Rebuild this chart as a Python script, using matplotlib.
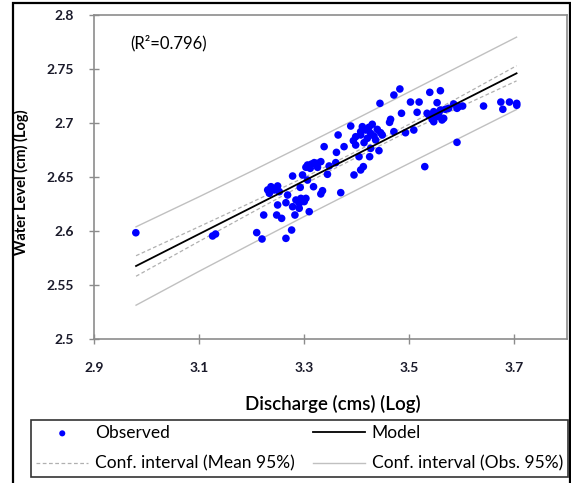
"""Rating curve: log water level vs log discharge with regression and 95% bands."""
import matplotlib
matplotlib.use('Agg')
import matplotlib.pyplot as plt
from matplotlib.patches import Rectangle

plt.rcParams['font.family'] = ['Lato', 'DejaVu Sans']

# observed points (log discharge, log water level)
obs_x = [3.482, 3.4706, 3.5389, 3.5591, 3.4441, 3.5022, 3.5186, 3.5528, 3.5844, 3.6014,
         3.6412, 3.6741, 3.6905, 3.7044, 3.6779, 3.7044, 3.4851, 3.5148, 3.5338, 3.5464,
         3.5591, 3.5686, 3.5907, 3.5464, 3.5622, 3.5528, 3.4643, 3.4624, 3.3885, 3.4295,
         3.3645, 3.4074, 3.4169, 3.4264, 3.4390, 3.4485, 3.3979, 3.4200, 3.4359, 3.4706,
         3.4927, 3.5085, 3.3379, 3.3758, 3.3613, 3.3979, 3.4264, 3.4422, 3.4043, 3.4245,
         3.5907, 3.3063, 3.3190, 3.3316, 3.3114, 3.3253, 3.3474, 3.3600, 3.3442, 3.3947,
         3.4074, 3.4125, 3.2779, 3.2968, 3.3063, 3.5294, 3.2305, 3.2368, 3.2494, 3.2526,
         3.2924, 3.3177, 3.3348, 3.3316, 3.3695, 3.2684, 3.2494, 3.2652, 3.2842, 3.2937,
         3.3032, 3.2779, 3.2905, 3.3095, 3.2229, 3.2476, 3.2570, 3.2823, 3.2096, 3.2197,
         3.2652, 3.2760, 3.4074, 3.4106, 3.4327, 3.4138, 3.4232, 3.3935, 3.4454, 3.5370,
         3.5560, 3.5654, 3.5433, 3.5749, 3.5939, 3.3139, 3.3253, 3.3032, 3.2431, 3.2337,
         3.2905, 3.3000, 2.9796, 3.1256, 3.1313]
obs_y = [2.7315, 2.7259, 2.7284, 2.7299, 2.7182, 2.7194, 2.7194, 2.7188, 2.7176, 2.7157,
         2.7157, 2.7194, 2.7194, 2.7182, 2.7127, 2.7164, 2.7090, 2.7099, 2.7090, 2.7105,
         2.7120, 2.7127, 2.7136, 2.7012, 2.7028, 2.7059, 2.7034, 2.7006, 2.6972, 2.6988,
         2.6889, 2.6920, 2.6935, 2.6904, 2.6941, 2.6889, 2.6873, 2.6858, 2.6843, 2.6920,
         2.6910, 2.6935, 2.6781, 2.6781, 2.6728, 2.6796, 2.6765, 2.6744, 2.6688, 2.6688,
         2.6821, 2.6611, 2.6633, 2.6642, 2.6580, 2.6590, 2.6602, 2.6633, 2.6525, 2.6519,
         2.6565, 2.6596, 2.6509, 2.6519, 2.6472, 2.6596, 2.6380, 2.6410, 2.6417, 2.6364,
         2.6404, 2.6410, 2.6373, 2.6343, 2.6355, 2.6333, 2.6241, 2.6262, 2.6287, 2.6302,
         2.6302, 2.6225, 2.6210, 2.6179, 2.6148, 2.6148, 2.6117, 2.6148, 2.5985, 2.5926,
         2.5932, 2.6009, 2.6889, 2.6966, 2.6880, 2.6818, 2.6960, 2.6836, 2.6910, 2.7074,
         2.7090, 2.7043, 2.7034, 2.7136, 2.7151, 2.6620, 2.6627, 2.6590, 2.6380, 2.6349,
         2.6256, 2.6272, 2.5984, 2.5954, 2.5972]

# regression line and confidence bands
line_x  = [2.98, 3.1, 3.2, 3.3, 3.4, 3.5, 3.6, 3.704]
model_y = [2.5676, 2.5972, 2.6218, 2.6465, 2.6711, 2.6958, 2.7204, 2.7460]
mean_up = [2.5771, 2.6040, 2.6266, 2.6496, 2.6739, 2.6989, 2.7252, 2.7530]
mean_lo = [2.5581, 2.5904, 2.6170, 2.6434, 2.6683, 2.6927, 2.7156, 2.7390]
obs_up  = [2.6039, 2.6317, 2.6554, 2.6796, 2.7041, 2.7289, 2.7537, 2.7795]
obs_lo  = [2.5313, 2.5627, 2.5882, 2.6134, 2.6381, 2.6627, 2.6871, 2.7125]

x_ticks = [2.9, 3.1, 3.3, 3.5, 3.7]
y_ticks = [2.5, 2.55, 2.6, 2.65, 2.7, 2.75, 2.8]
r2 = 0.796

fig = plt.figure(figsize=(5.71, 4.83), dpi=100)
ax = fig.add_axes([94/571, 1 - 339/483, 473/571, 324/483])

ax.plot(line_x, obs_up, color='#c0c0c0', lw=1.0)
ax.plot(line_x, obs_lo, color='#c0c0c0', lw=1.0)
ax.plot(line_x, mean_up, color='#b0b0b0', lw=0.9, ls=(0, (3, 2)))
ax.plot(line_x, mean_lo, color='#b0b0b0', lw=0.9, ls=(0, (3, 2)))
sc = ax.scatter(obs_x, obs_y, s=30, color='#0000ff', edgecolors='none', zorder=3)
ln, = ax.plot(line_x, model_y, color='black', lw=1.3, zorder=4)

ax.set_xlim(2.9, 3.8)
ax.set_ylim(2.5, 2.8)
ax.set_xticks(x_ticks)
ax.set_yticks(y_ticks)
ax.set_xticklabels([f'{v:g}' for v in x_ticks])
ax.set_yticklabels([f'{v:g}' for v in y_ticks])
for s in ax.spines.values():
    s.set_color('#8c8c8c')
    s.set_linewidth(1.2)
ax.tick_params(direction='inout', length=7, width=1, color='#8c8c8c',
               labelsize=10, labelcolor='#1a1a2a')
ax.tick_params(axis='x', pad=13)
ax.tick_params(axis='y', pad=11)
for lab in ax.get_xticklabels() + ax.get_yticklabels():
    lab.set_fontweight('bold')

fig.text(130/571, 1 - 43/483, f'(R²={r2})', fontsize=12, va='center', ha='left')
fig.text(333/571, 1 - 404/483, 'Discharge (cms) (Log)', fontsize=13.5,
         fontweight='semibold', ha='center', va='center')
fig.text(21/571, 1 - 182/483, 'Water Level (cm) (Log)', fontsize=10.5,
         fontweight='bold', rotation=90, ha='center', va='center')

# legend handles (dummy lines matching the band styles)
h_mean, = ax.plot([], [], color='#b0b0b0', lw=0.9, ls=(0, (3, 2)))
h_obs, = ax.plot([], [], color='#c0c0c0', lw=1.0)
leg = fig.legend([sc, h_mean, ln, h_obs],
                 ['Observed', 'Conf. interval (Mean 95%)', 'Model', 'Conf. interval (Obs. 95%)'],
                 ncol=2, loc='lower left', mode='expand',
                 bbox_to_anchor=(31/571, 6/483, 537/571, 61/483),
                 fontsize=12.5, handlelength=3.0, handletextpad=0.4,
                 labelspacing=0.85, borderpad=0.3, borderaxespad=0, columnspacing=0.5,
                 fancybox=False, frameon=True, edgecolor='black', scatterpoints=1,
                 markerscale=0.8)
leg.get_frame().set_linewidth(1.2)

# outer chart frame
fig.patches.append(Rectangle((13/571, -0.02), 557/571, 1.0138, transform=fig.transFigure,
                             fill=False, edgecolor='black', lw=1.6))

fig.savefig('out.png', dpi=100)
